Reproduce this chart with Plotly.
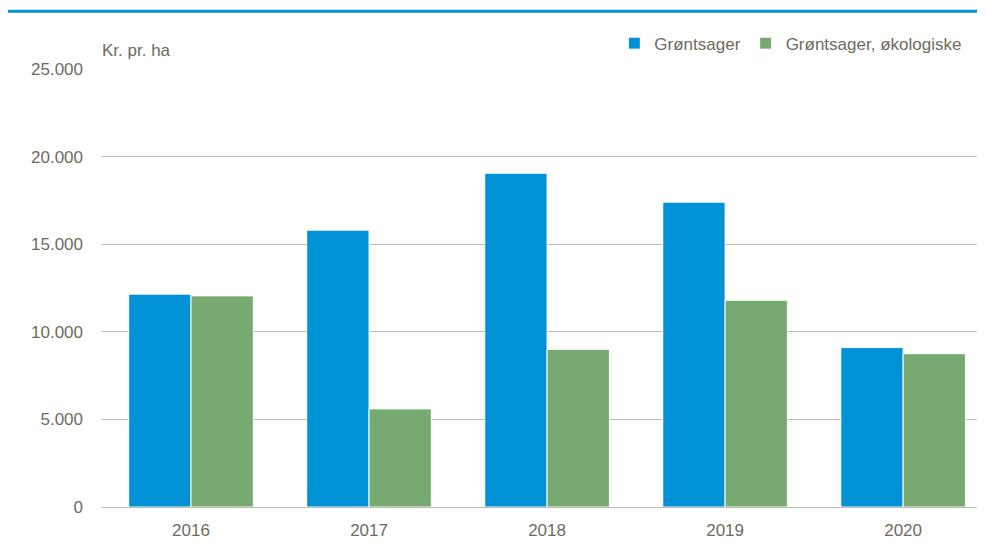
import plotly.graph_objects as go

# Data (kr. pr. ha)
years = ["2016", "2017", "2018", "2019", "2020"]
groentsager = [12150, 15800, 19050, 17400, 9100]
groentsager_oeko = [12050, 5600, 9000, 11800, 8750]
tick_vals = [0, 5000, 10000, 15000, 20000, 25000]
tick_text = ["0", "5.000", "10.000", "15.000", "20.000", "25.000"]

COLORS = {
    'blue': '#0091d7',
    'green': '#77aa70',
    'text': '#6d6c5e',
    'grid': '#bcbbac',
}
FONT_FAMILY = "Liberation Sans Narrow, Arial Narrow, Liberation Sans, Arial, sans-serif"

fig = go.Figure()
fig.add_trace(go.Bar(
    x=years, y=groentsager, name="Grøntsager",
    marker=dict(color=COLORS['blue'], line=dict(color='white', width=1)),
))
fig.add_trace(go.Bar(
    x=years, y=groentsager_oeko, name="Grøntsager, økologiske",
    marker=dict(color=COLORS['green'], line=dict(color='white', width=1)),
))

# page body has an 8px margin, so the figure is sized/offset to compensate
fig.update_layout(
    width=977, height=541,
    barmode='group', bargap=0.3, bargroupgap=0,
    plot_bgcolor='white', paper_bgcolor='white',
    font=dict(family=FONT_FAMILY, size=17, color=COLORS['text']),
    margin=dict(l=94, r=0, t=61, b=42),
    legend=dict(
        orientation='h', x=0.98, xanchor='right', y=1.058, yanchor='middle',
        font=dict(size=17, color=COLORS['text']), itemwidth=30,
        traceorder='normal',
    ),
    # the right edge of the last category is cut off, as in the original
    xaxis=dict(range=[-0.5, 4.46], showgrid=False, ticks='', showline=True,
               linecolor=COLORS['grid'], linewidth=1, tickfont=dict(size=17),
               ticklabelstandoff=8),
    yaxis=dict(range=[0, 25000], tickvals=tick_vals, ticktext=tick_text,
               showgrid=True, gridcolor=COLORS['grid'], gridwidth=1,
               zeroline=False, ticks='', ticklabelstandoff=18,
               tickfont=dict(size=17)),
    showlegend=True,
)

# Unit label above the axis
fig.add_annotation(text="Kr. pr. ha", xref='paper', yref='paper', x=-0.002, y=1.017,
                   xanchor='left', yanchor='bottom', showarrow=False,
                   font=dict(size=17, color=COLORS['text']))

# Blue rule across the top
fig.add_shape(type='line', xref='paper', yref='paper', x0=-0.11, x1=1.02,
              y0=1.132, y1=1.132, line=dict(color=COLORS['blue'], width=3))

fig.write_html("out.html")
